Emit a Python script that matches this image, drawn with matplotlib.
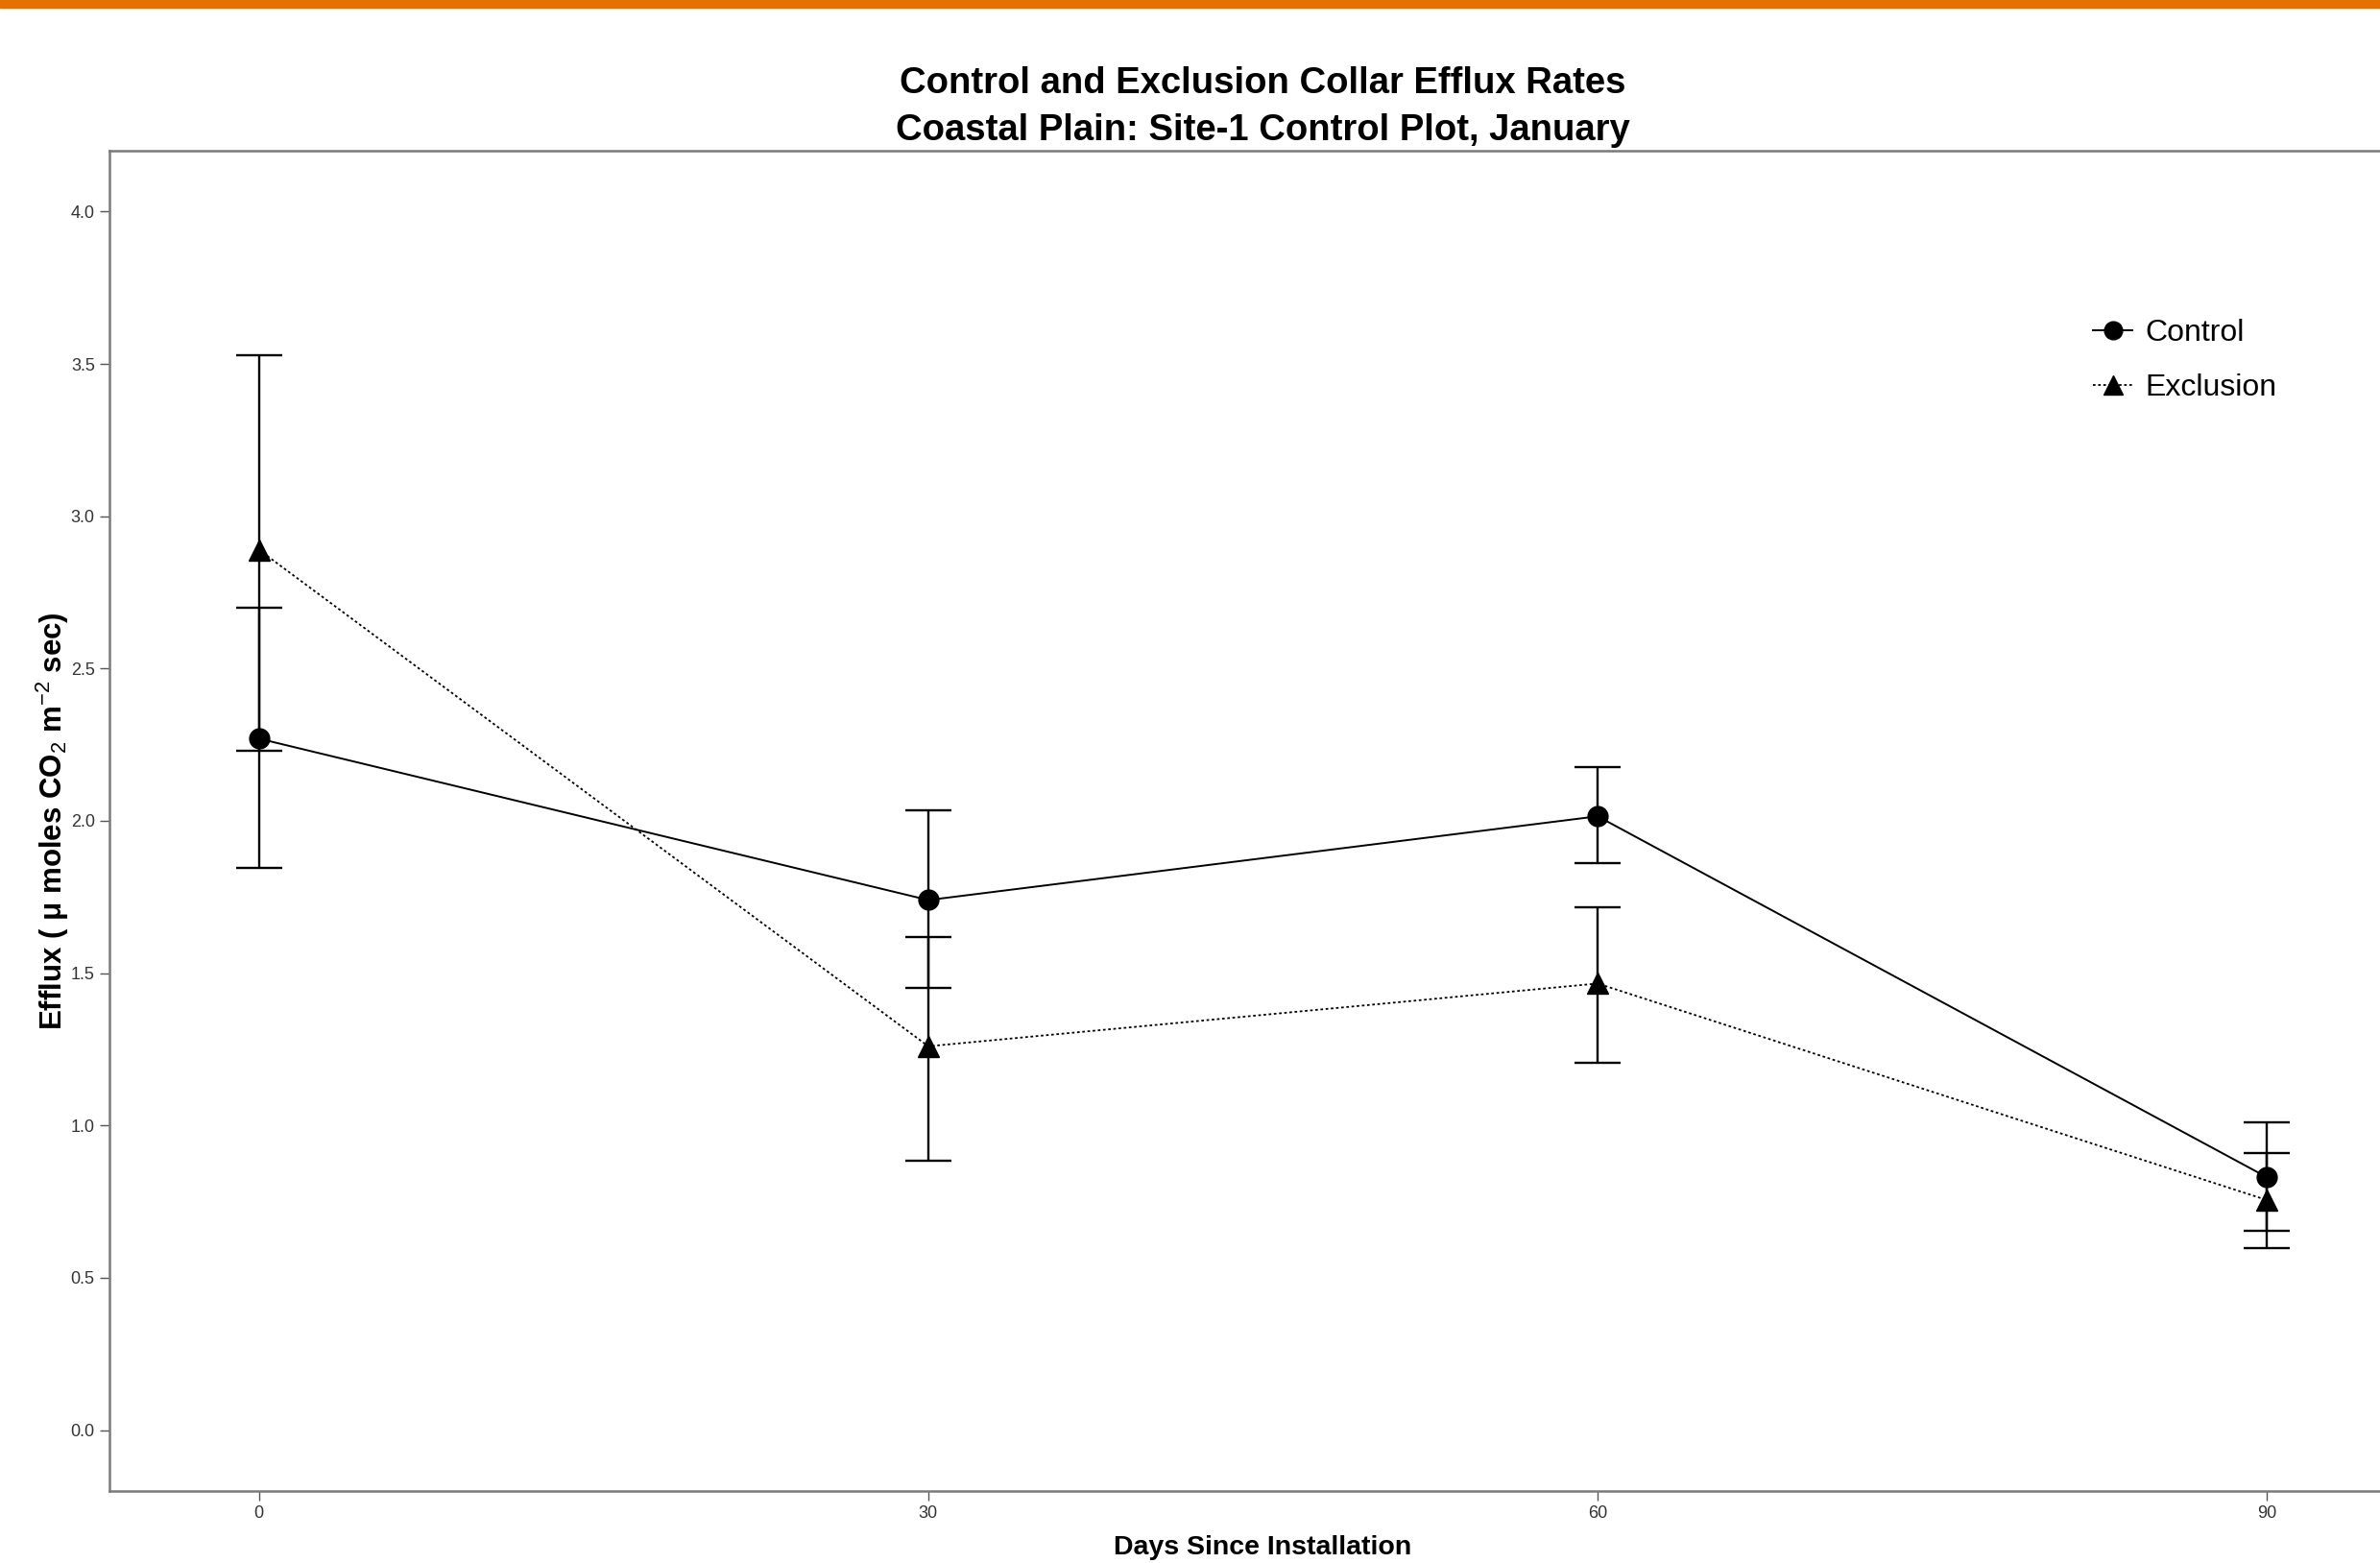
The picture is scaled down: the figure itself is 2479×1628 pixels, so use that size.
import numpy as np
import matplotlib
matplotlib.use('Agg')
import matplotlib.pyplot as plt
from matplotlib.patches import Rectangle

# values
days = [0, 30, 60, 90]
control_mean = [2.27, 1.74, 2.015, 0.83]
control_upper = [2.70, 2.035, 2.175, 1.01]
control_lower = [1.845, 1.452, 1.86, 0.653]
exclusion_mean = [2.89, 1.26, 1.466, 0.755]
exclusion_upper = [3.53, 1.62, 1.716, 0.909]
exclusion_lower = [2.23, 0.883, 1.207, 0.596]

y_ticks = [0.0, 0.5, 1.0, 1.5, 2.0, 2.5, 3.0, 3.5, 4.0]

plt.rcParams['font.family'] = ['Liberation Sans', 'DejaVu Sans']
plt.rcParams['mathtext.fontset'] = 'custom'
plt.rcParams['mathtext.rm'] = 'Liberation Sans'
plt.rcParams['mathtext.bf'] = 'Liberation Sans:bold'

W, H = 2479, 1628
fig = plt.figure(figsize=(W / 100, H / 100), dpi=100)

# orange strip on top
fig.patches.append(Rectangle((0, 1 - 8 / H), 1, 8 / H, transform=fig.transFigure,
                             color='#E57200', zorder=5))

# axes run past the right edge, as in the cropped reference
ax = fig.add_axes([114 / W, 1 - 1553 / H, 2403 / W, (1553 - 157) / H])

cm = np.array(control_mean)
em = np.array(exclusion_mean)
c_err = [cm - np.array(control_lower), np.array(control_upper) - cm]
e_err = [em - np.array(exclusion_lower), np.array(exclusion_upper) - em]

ax.errorbar(days, cm, yerr=c_err, fmt='none', ecolor='black', elinewidth=1.7,
            capsize=17, capthick=1.7, zorder=2)
ax.errorbar(days, em, yerr=e_err, fmt='none', ecolor='black', elinewidth=1.7,
            capsize=17, capthick=1.7, zorder=2)

ax.plot(days, cm, color='black', linestyle='-', linewidth=1.4, marker='o',
        markersize=15, label='Control', zorder=3)
ax.plot(days, em, color='black', linestyle=(0, (1.5, 1.5)), linewidth=1.3, marker='^',
        markersize=16, label='Exclusion', zorder=3)

ax.set_xlim(-6.7, 96.7)
ax.set_ylim(-0.2, 4.2)
ax.set_xticks(days)
ax.set_yticks(y_ticks)
ax.set_yticklabels(['%.1f' % v for v in y_ticks])
ax.tick_params(axis='both', length=7, width=1, color='#555555', labelcolor='#333333',
               labelsize=13, pad=4)

for s in ax.spines.values():
    s.set_color('#7a7a7a')
    s.set_linewidth(1.8)

ax.set_xlabel('Days Since Installation', fontsize=20.5, fontweight='bold', labelpad=10)
ax.set_ylabel('Efflux ( μ moles CO$_2$ m$^{-2}$ sec)', fontsize=22.5, fontweight='bold',
              labelpad=0)

fig.text(1315 / W, 1 - 87 / H, 'Control and Exclusion Collar Efflux Rates',
         ha='center', va='center', fontsize=27.5, fontweight='bold')
fig.text(1315 / W, 1 - 136 / H, 'Coastal Plain: Site-1 Control Plot, January',
         ha='center', va='center', fontsize=27.5, fontweight='bold')

ax.legend(loc='upper left', bbox_to_anchor=(2151 / W, 1 - 303 / H),
          bbox_transform=fig.transFigure, frameon=False, fontsize=23,
          handlelength=1.3, handletextpad=0.4, labelspacing=0.85, markerscale=0.9)

fig.savefig('out.png', dpi=100)
